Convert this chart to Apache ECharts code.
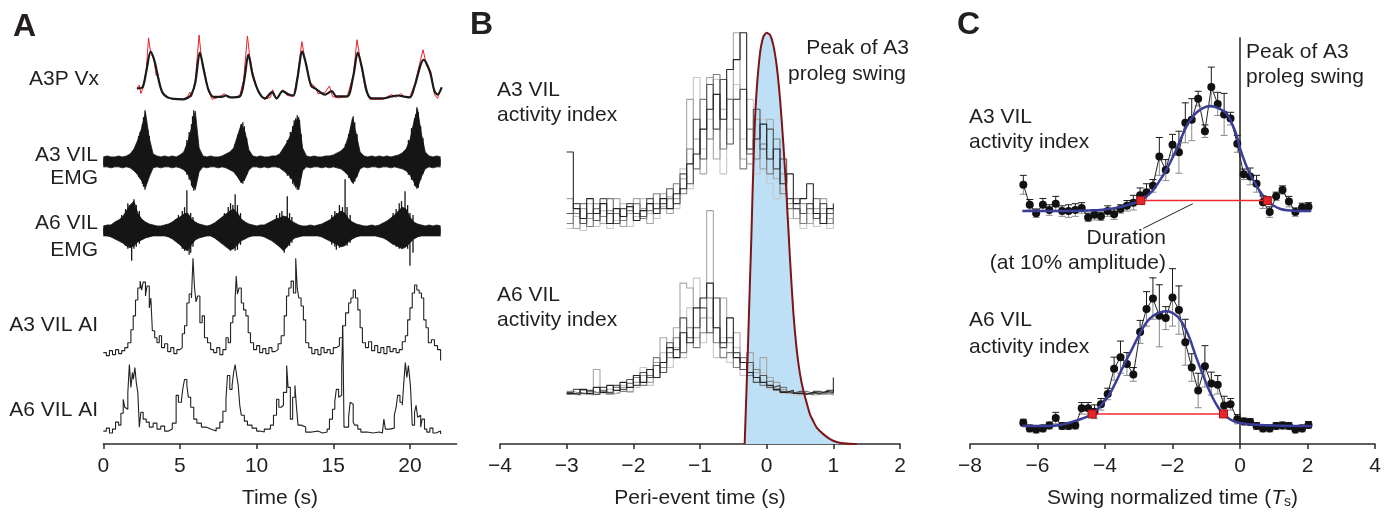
<!DOCTYPE html>
<html><head><meta charset="utf-8">
<script src="https://cdn.jsdelivr.net/npm/echarts@6/dist/echarts.min.js"></script>
<style>html,body{margin:0;padding:0;background:#fff}#c{width:1385px;height:514px}</style>
</head><body><div id="c"></div>
<script>
// ================= DATA =================
// ---- Panel A : time in s ----
const aTicks = [0, 5, 10, 15, 20];
// A3P Vx (normalized velocity), smoothed trace
const vxBlack = [[2.2,0.23],[2.55,0.25],[2.8,0.58],[3.09,1.0],[3.35,0.79],[3.6,0.42],[3.85,0.15],[4.2,0.04],[4.6,0.01],[5.2,0],[5.55,0.04],[5.75,0.1],[6.0,0.35],[6.3,0.98],[6.55,0.62],[6.85,0.21],[7.2,0.05],[7.7,0.05],[8.0,0.08],[8.3,0.04],[8.9,0.06],[9.2,0.42],[9.46,0.94],[9.75,0.5],[10.15,0.15],[10.55,0.02],[11.0,0.15],[11.3,0.02],[11.7,0.17],[12.1,0.1],[12.4,0.08],[12.65,0.42],[12.98,1.0],[13.2,0.77],[13.55,0.29],[13.9,0.21],[14.45,0.1],[14.9,0.17],[15.2,0.06],[15.9,0.06],[16.3,0.48],[16.6,0.98],[16.85,0.69],[17.2,0.15],[17.5,0.02],[18.3,0.02],[18.8,0.06],[19.2,0.08],[19.6,0.06],[20.0,0.04],[20.3,0.27],[20.9,0.83],[21.3,0.58],[21.6,0.17],[21.8,0.1],[22.07,0.25]];
// A3P Vx raw trace
const vxRed = [[2.2,0.23],[2.35,0.3],[2.45,0.12],[2.6,0.25],[2.8,0.6],[2.95,1.29],[3.1,0.95],[3.3,0.85],[3.45,0.5],[3.55,0.55],[3.7,0.3],[3.85,0.12],[4.1,0.04],[4.6,0],[5.2,0],[5.5,0.06],[5.65,0.15],[5.75,0.05],[6.0,0.4],[6.25,1.35],[6.4,0.85],[6.6,0.6],[6.85,0.18],[7.1,0],[7.5,0.04],[7.9,0.12],[8.1,0.04],[8.6,0.04],[8.9,0.08],[9.15,0.4],[9.4,1.33],[9.55,0.9],[9.75,0.55],[10.1,0.15],[10.5,0],[10.9,0.04],[11.05,0.2],[11.3,0],[11.7,0.2],[12.0,0.08],[12.4,0.06],[12.65,0.45],[12.95,1.21],[13.15,0.85],[13.5,0.35],[13.85,0.25],[14.0,0.12],[14.45,0.14],[14.75,0.28],[14.95,0.06],[15.3,0.03],[15.9,0.05],[16.3,0.5],[16.55,1.25],[16.8,0.75],[17.1,0.2],[17.4,0],[18.2,0],[18.8,0.1],[19.1,0.04],[19.4,0.12],[19.7,0.04],[20.0,0.06],[20.3,0.3],[20.85,1.04],[21.1,0.7],[21.35,0.6],[21.6,0.1],[21.8,0.02],[22.07,0.25]];
// EMG envelopes, sampled every 0.25 s from 0 s (amplitude, a.u.)
const emgT0 = 0, emgDt = 0.25;
const a3EmgUp = [0.5,0.6,0.5,0.5,0.6,0.5,0.6,0.8,1.3,2.2, 3.4,5.0,2.4,0.8,0.6,0.5,0.6,0.5,0.6,0.5, 0.7,1.0,2.0,3.4,5.1,1.4,0.6,0.5,0.6,0.5, 0.5,0.6,0.8,1.0,1.4,2.6,3.8,3.0,1.2,0.6, 0.5,0.6,0.5,0.5,0.6,0.6,0.8,1.4,2.0,2.8, 4.0,4.5,1.4,0.6,0.5,0.6,0.5,0.5,0.6,0.6, 0.7,0.9,1.1,1.5,2.6,4.4,2.8,1.0,0.6,0.5, 0.6,0.5,0.6,0.5,0.6,0.5,0.6,0.7,0.9,1.3, 2.2,4.0,5.3,2.8,1.0,0.6,0.5,0.6,0.5];
const a3EmgDown = [0.5,0.5,0.6,0.5,0.5,0.6,0.5,0.6,0.9,1.3, 1.9,2.6,1.5,0.6,0.5,0.6,0.5,0.5,0.6,0.5, 0.6,0.8,1.2,2.0,2.8,1.0,0.5,0.6,0.5,0.5, 0.6,0.5,0.6,0.8,1.0,1.5,2.1,1.7,0.8,0.5, 0.5,0.6,0.5,0.6,0.5,0.5,0.6,0.9,1.2,1.6, 2.2,2.8,0.9,0.5,0.6,0.5,0.5,0.6,0.5,0.6, 0.5,0.6,0.7,1.0,1.4,2.1,1.6,0.7,0.5,0.6, 0.5,0.5,0.6,0.5,0.5,0.6,0.5,0.6,0.7,0.9, 1.3,2.0,2.6,1.5,0.7,0.5,0.6,0.5,0.5];
const a6EmgUp = [0.5,0.6,0.6,0.9,1.1,1.4,2.0,2.6,3.0,1.8, 1.2,0.9,0.7,0.6,0.5,0.5,0.6,0.7,0.9,1.2, 1.4,1.7,1.8,1.2,0.9,0.7,0.6,0.5,0.6,0.8, 1.1,1.4,1.7,2.0,2.2,1.8,1.2,0.9,0.7,0.6, 0.5,0.6,0.6,0.8,1.0,1.2,1.3,1.5,1.4,1.0, 0.8,0.6,0.5,0.5,0.6,0.5,0.6,0.7,0.9,1.1, 1.4,1.7,2.0,1.8,1.2,0.9,0.7,0.6,0.5,0.5, 0.6,0.5,0.6,0.8,1.0,1.3,1.6,2.0,2.4,2.2, 1.4,0.9,0.7,0.6,0.5,0.6,0.5,0.6,0.5];
const a6EmgDown = [0.5,0.5,0.6,0.8,1.0,1.2,1.5,1.7,1.5,1.1, 0.9,0.7,0.6,0.5,0.5,0.5,0.5,0.6,0.8,1.1, 1.4,1.8,2.0,1.4,0.9,0.7,0.6,0.5,0.5,0.7, 1.0,1.3,1.6,1.9,1.8,1.4,1.0,0.8,0.6,0.5, 0.5,0.5,0.6,0.8,1.0,1.3,1.6,2.0,1.6,1.0, 0.7,0.6,0.5,0.5,0.5,0.5,0.5,0.6,0.8,1.0, 1.2,1.4,1.6,1.5,1.1,0.8,0.6,0.5,0.5,0.5, 0.5,0.5,0.6,0.7,0.9,1.2,1.4,1.6,1.8,1.6, 1.2,0.8,0.6,0.5,0.5,0.5,0.5,0.5,0.5];
// individual EMG spikes [t, up, down]
const a3EmgSpikes = [[2.72,5.2,2.8],[2.55,3.8,2.2],[2.3,2.6,1.5],[2.4,3.0,1.7],[2.62,4.5,2.5],[2.8,4.0,2.2],[2.9,3.2,1.6],[3.0,2.6,1.2],
  [5.9,5.2,2.9],[5.75,3.8,2.4],[5.45,2.2,1.3],[5.6,3.0,1.8],[5.82,4.6,2.6],[6.0,4.4,2.5],[6.1,2.6,1.3],
  [9.1,4.0,2.2],[8.9,3.2,1.8],[8.6,1.8,1.0],[8.8,2.8,1.5],[9.0,3.8,2.1],[9.2,3.6,1.9],[9.35,2.4,1.3],
  [12.65,4.7,2.8],[12.45,4.2,2.4],[12.0,2.2,1.4],[12.2,3.0,1.7],[12.35,3.6,2.2],[12.55,4.4,2.6],[12.8,4.2,2.4],[12.9,2.8,1.5],
  [16.3,4.6,2.2],[16.15,3.4,1.8],[15.8,1.8,1.1],[16.0,2.8,1.6],[16.2,3.8,2.0],[16.4,4.0,2.0],[16.55,2.8,1.5],
  [20.45,5.5,2.7],[20.3,4.4,2.4],[19.9,2.2,1.3],[20.1,3.4,1.8],[20.38,4.8,2.5],[20.55,5.0,2.6],[20.7,3.6,1.8],[20.85,2.4,1.2]];
const a6EmgSpikes = [[1.85,2.2,3.0],[2.0,3.2,1.8],[1.7,2.6,1.6],[1.2,1.6,1.2],[1.45,2.2,1.5],[1.6,2.8,1.8],[2.15,2.6,1.6],[2.35,2.0,1.3],
  [5.45,4.1,1.2],[5.6,1.5,2.4],[4.9,1.6,1.3],[5.15,2.0,1.8],[5.3,2.4,2.0],[5.7,1.8,2.2],[5.85,1.4,1.6],
  [8.6,3.7,2.0],[8.45,2.6,1.4],[7.9,1.8,1.4],[8.15,2.4,1.7],[8.3,2.8,2.0],[8.75,2.6,1.9],[8.95,1.8,1.4],
  [12.0,3.5,1.2],[11.8,1.4,2.2],[11.3,1.6,1.3],[11.5,1.8,1.6],[11.65,2.0,1.8],[12.15,1.8,1.5],[12.3,1.4,1.2],
  [15.77,5.2,1.4],[15.6,2.4,1.2],[15.2,1.8,1.9],[14.9,1.6,1.4],[15.1,2.0,1.6],[15.4,2.6,1.7],[15.9,2.4,1.5],[16.1,1.6,1.2],
  [19.68,4.0,1.6],[19.45,3.0,1.4],[20.0,1.8,3.5],[18.9,1.8,1.4],[19.1,2.2,1.6],[19.3,2.8,1.8],[19.85,2.6,1.8],[20.2,1.6,2.2]];
// activity indices
const a3AI = [[0,0.7],[0.2,0.4],[0.4,0.9],[0.6,0.5],[0.8,1.0],[1.0,0.6],[1.2,0.9],[1.4,1.2],[1.6,1.7],[1.8,3.0],[1.95,4.4],[2.1,6.0],[2.25,7.2],[2.4,7.9],[2.5,7.0],[2.6,7.8],[2.75,6.4],[2.85,7.4],[3.0,5.2],[3.1,6.2],[3.2,2.9],[3.35,2.2],[3.5,1.7],[3.65,2.4],[3.8,1.2],[4.0,1.6],[4.2,0.8],[4.4,1.2],[4.6,0.6],[4.8,1.0],[5.0,1.2],[5.15,2.6],[5.3,3.4],[5.45,5.7],[5.6,6.6],[5.75,6.2],[5.85,10.2],[5.95,7.2],[6.05,5.8],[6.15,6.4],[6.3,3.7],[6.45,4.4],[6.6,2.2],[6.8,1.7],[7.0,1.0],[7.2,0.7],[7.4,1.2],[7.6,0.5],[7.8,1.0],[8.0,2.2],[8.15,1.7],[8.3,3.7],[8.45,4.4],[8.6,6.2],[8.67,8.4],[8.75,6.6],[8.85,7.2],[9.0,5.7],[9.15,5.0],[9.3,4.4],[9.45,2.7],[9.6,1.7],[9.8,1.0],[10.0,1.4],[10.2,0.7],[10.4,1.1],[10.6,0.6],[10.8,1.2],[11.0,0.8],[11.2,1.0],[11.4,1.6],[11.6,2.4],[11.8,4.4],[11.95,6.4],[12.1,7.2],[12.25,7.9],[12.4,6.7],[12.55,10.2],[12.65,7.2],[12.75,6.2],[12.9,5.4],[13.05,4.0],[13.2,1.7],[13.4,1.2],[13.6,0.6],[13.8,1.0],[14.0,0.5],[14.2,1.2],[14.4,0.7],[14.6,1.0],[14.8,0.6],[15.0,1.2],[15.2,1.4],[15.4,2.2],[15.6,3.4],[15.8,4.7],[16.0,5.7],[16.15,6.2],[16.3,7.0],[16.45,6.2],[16.6,5.0],[16.75,3.2],[16.9,1.7],[17.1,1.2],[17.3,1.8],[17.5,0.9],[17.7,1.4],[17.9,0.7],[18.1,1.2],[18.3,0.6],[18.5,1.3],[18.7,0.8],[18.9,1.1],[19.1,0.7],[19.3,1.0],[19.5,1.8],[19.7,2.4],[19.85,4.0],[20.0,5.2],[20.15,6.7],[20.3,7.5],[20.45,7.0],[20.6,6.7],[20.75,6.2],[20.9,4.0],[21.05,3.2],[21.2,1.7],[21.4,2.0],[21.6,1.4],[21.8,1.0],[22.0,-0.1]];
const a6AI = [[0,0.6],[0.2,0.9],[0.4,0.4],[0.6,0.8],[0.8,1.5],[1.0,1.2],[1.15,2.4],[1.3,3.8],[1.4,3.0],[1.5,2.8],[1.6,4.5],[1.7,7.3],[1.8,5.0],[1.9,6.5],[1.96,5.8],[2.06,7.0],[2.15,5.5],[2.25,4.5],[2.35,1.0],[2.45,2.5],[2.6,1.8],[2.8,1.5],[3.0,1.0],[3.25,1.4],[3.5,0.8],[3.75,1.1],[4.0,0.6],[4.25,0.8],[4.5,1.4],[4.75,4.2],[4.9,3.5],[5.1,3.8],[5.2,5.0],[5.3,5.8],[5.45,5.2],[5.55,4.0],[5.7,3.0],[5.9,1.8],[6.1,1.4],[6.4,1.0],[6.7,0.8],[7.0,0.6],[7.36,0.9],[7.6,1.5],[7.8,2.6],[8.0,3.8],[8.1,6.2],[8.25,4.8],[8.4,5.2],[8.5,6.5],[8.6,7.3],[8.7,6.2],[8.8,5.2],[8.9,3.2],[9.0,2.2],[9.2,1.6],[9.4,1.2],[9.7,0.9],[10.0,0.6],[10.2,0.5],[10.5,0.8],[10.9,1.2],[11.1,2.2],[11.3,3.8],[11.45,3.0],[11.6,3.2],[11.75,4.5],[11.96,7.2],[12.05,5.0],[12.2,1.8],[12.35,4.0],[12.5,5.2],[12.6,3.0],[12.7,1.2],[12.9,1.0],[13.2,0.5],[13.6,0.6],[14.0,0.4],[14.3,0.5],[14.6,0.8],[14.75,1.8],[14.95,2.8],[15.1,3.6],[15.2,4.8],[15.35,4.0],[15.45,4.2],[15.55,7.0],[15.62,11.2],[15.7,1.0],[15.85,1.0],[16.0,2.0],[16.1,3.5],[16.2,3.3],[16.3,1.5],[16.4,1.2],[16.6,0.8],[16.8,0.5],[17.2,0.4],[17.6,0.5],[18.0,0.4],[18.2,0.6],[18.3,1.8],[18.4,0.8],[18.7,0.9],[18.98,2.2],[19.1,3.0],[19.2,4.2],[19.35,3.5],[19.5,3.2],[19.6,5.5],[19.7,7.5],[19.8,6.0],[19.9,7.2],[20.03,5.2],[20.1,3.0],[20.15,1.2],[20.3,2.5],[20.4,3.2],[20.5,2.0],[20.6,2.2],[20.7,1.0],[20.8,1.8],[20.95,0.8],[21.1,0.5],[21.3,0.9],[21.5,0.4],[21.7,0.6],[22.0,0.3]];

// ---- Panel B : peri-event time in s ----
const bBins = [-3.0,-2.9,-2.8,-2.7,-2.6,-2.5,-2.4,-2.3,-2.2,-2.1,-2.0,-1.9,-1.8,-1.7,-1.6,-1.5,-1.4,-1.3,-1.2,-1.1,-1.0,-0.9,-0.8,-0.7,-0.6,-0.5,-0.4,-0.3,-0.2,-0.1,0.0,0.1,0.2,0.3,0.4,0.5,0.6,0.7,0.8,0.9,1.0];
const bA3_1 = [7.7,2.0,1.0,3.0,1.5,2.5,0.5,2.0,1.2,2.2,0.8,1.8,2.5,1.5,3.0,2.0,3.5,4.0,6.5,7.5,10.0,12.0,13.5,11.0,16.0,17.0,19.7,8.0,9.0,10.5,7.0,8.0,4.5,5.5,2.5,3.0,4.5,1.5,0.5,2.0,2.5];
const bA3_2 = [1.5,2.5,0.5,1.5,0.8,3.0,1.5,0.5,2.0,2.5,1.5,1.2,3.0,2.0,2.5,4.0,2.5,5.5,4.5,11.0,7.0,14.5,10.0,15.0,8.5,13.0,14.0,7.5,12.0,8.0,10.0,6.0,7.0,3.0,2.0,1.5,2.5,1.0,2.5,1.5,2.0];
const bA3_3 = [0.5,1.5,2.5,0.2,2.0,1.2,3.0,1.5,0.8,1.8,2.5,1.0,1.8,3.5,2.0,3.0,4.5,3.5,8.0,6.0,13.0,9.0,15.5,8.0,13.0,11.0,6.0,10.0,7.0,8.5,5.5,9.0,3.5,2.0,3.0,0.5,2.0,3.0,1.5,0.5,1.5];
const bA3_4 = [3.0,0.0,2.0,1.0,2.5,0.5,1.8,3.0,0.2,1.5,3.0,2.0,0.5,2.5,3.5,1.5,3.0,5.0,13.0,9.0,5.5,15.2,7.0,12.0,13.0,19.7,7.0,6.5,11.0,6.0,11.0,5.0,5.5,2.5,1.0,2.5,0.5,2.0,3.0,1.0,0.5];
const bA3_5 = [0.0,1.2,-0.2,2.5,0.2,1.8,0.0,0.8,2.5,0.2,1.2,3.0,1.5,1.0,2.2,3.2,2.0,6.0,4.0,15.2,8.0,11.0,15.0,5.5,10.0,14.5,9.0,13.0,5.5,11.0,4.5,3.0,4.0,1.0,2.0,0.0,1.5,0.2,2.0,0.0,1.0];
const bA6_1 = [0.4,0.3,0.8,0.4,1.0,0.5,1.2,0.7,1.5,1.0,2.2,1.5,2.8,2.0,3.5,5.0,4.0,6.5,5.5,9.0,10.0,11.5,7.0,5.5,8.0,4.0,3.5,2.5,2.0,1.5,1.2,0.8,0.5,0.7,0.4,0.3,0.5,0.4,0.6,0.5,2.0];
const bA6_2 = [0.5,0.8,0.4,0.7,0.3,1.0,0.5,1.2,0.8,1.8,1.2,2.5,2.0,3.2,2.5,5.5,4.8,8.0,6.0,7.0,9.0,6.5,10.0,5.0,6.0,4.5,2.8,3.5,1.5,2.2,1.0,1.2,0.6,0.4,0.6,0.4,0.3,0.6,0.4,0.7,0.5];
const bA6_3 = [0.3,0.5,0.3,0.6,0.4,0.7,0.4,1.0,0.6,1.4,2.0,1.2,2.2,4.0,3.0,4.5,6.0,4.5,7.0,5.0,6.5,10.0,5.5,4.0,4.5,3.0,4.0,2.2,2.8,1.2,1.6,0.7,1.0,0.5,0.3,0.6,0.4,0.3,0.5,0.3,0.4];
const bA6_4 = [0.6,0.4,0.7,0.3,2.8,0.6,0.3,0.5,1.0,0.6,1.5,2.2,1.5,3.5,6.0,4.0,7.0,11.5,11.0,6.0,8.0,18.8,7.0,10.0,5.5,6.5,3.5,4.5,2.5,4.0,2.0,1.5,0.8,0.4,0.5,0.3,0.4,0.6,0.3,0.4,0.5];
const bA6_5 = [0.3,0.2,0.4,0.2,0.5,0.3,0.8,0.4,1.2,0.5,1.0,3.0,1.2,2.0,4.5,3.0,5.0,4.0,9.0,12.0,5.5,8.0,4.0,6.0,3.5,5.0,2.2,3.2,1.5,2.5,0.8,1.0,0.4,0.6,0.2,0.4,0.2,0.3,0.4,0.2,0.3];
// A3 proleg swing profile (normalized)
const swing = [[-0.33,0],[-0.28,0.24],[-0.25,0.4],[-0.23,0.5],[-0.21,0.62],[-0.18,0.77],[-0.15,0.86],[-0.1,0.95],[-0.05,0.99],[0,1],[0.05,0.995],[0.1,0.97],[0.15,0.92],[0.2,0.84],[0.25,0.73],[0.3,0.6],[0.35,0.45],[0.4,0.32],[0.45,0.23],[0.5,0.17],[0.55,0.13],[0.6,0.1],[0.65,0.072],[0.7,0.055],[0.75,0.04],[0.85,0.024],[0.95,0.012],[1.05,0.005],[1.15,0.002],[1.3,0],[1.35,0]];

// ---- Panel C : swing normalized time (Ts) ----
const tNorm = [-6.42,-6.23,-6.04,-5.84,-5.65,-5.46,-5.27,-5.08,-4.88,-4.69,-4.50,-4.31,-4.12,-3.92,-3.73,-3.54,-3.35,-3.16,-2.96,-2.77,-2.58,-2.39,-2.20,-2.00,-1.81,-1.62,-1.43,-1.24,-1.04,-0.85,-0.66,-0.47,-0.28,-0.08,0.11,0.30,0.49,0.68,0.88,1.07,1.26,1.45,1.64,1.84,2.03];
const cA3 = [0.25,0.06,-0.02,0.06,0.01,0.07,0.0,0.0,0.01,0.03,-0.06,-0.035,-0.05,0.0,-0.03,0.02,0.05,0.08,0.15,0.18,0.24,0.52,0.39,0.63,0.56,0.84,0.87,1.07,0.76,1.18,1.02,0.92,0.88,0.64,0.35,0.33,0.26,0.085,-0.01,0.14,0.2,0.09,-0.01,0.035,0.04];
const cA3Err = [0.09,0.05,0.04,0.06,0.05,0.07,0.05,0.06,0.06,0.05,0.04,0.05,0.04,0.05,0.05,0.04,0.05,0.07,0.07,0.08,0.06,0.18,0.1,0.1,0.2,0.19,0.2,0.07,0.06,0.19,0.11,0.2,0.06,0.08,0.05,0.08,0.08,0.06,0.05,0.04,0.04,0.05,0.04,0.04,0.04];
const cA6 = [0.03,-0.02,-0.03,-0.02,0.005,0.07,0.0,0.0,0.005,0.155,0.155,0.125,0.19,0.28,0.5,0.6,0.54,0.45,0.82,1.02,1.11,0.96,0.94,1.12,1.01,0.73,0.51,0.31,0.52,0.37,0.36,0.18,0.19,0.06,0.04,0.035,0.0,-0.02,-0.02,0.0,0.005,0.0,-0.03,-0.02,0.01];
const cA6Err = [0.03,0.03,0.03,0.03,0.03,0.05,0.03,0.03,0.03,0.05,0.05,0.06,0.05,0.05,0.1,0.14,0.1,0.06,0.1,0.15,0.18,0.27,0.1,0.25,0.21,0.2,0.12,0.15,0.18,0.1,0.08,0.08,0.05,0.04,0.03,0.03,0.03,0.03,0.03,0.03,0.03,0.03,0.03,0.03,0.03];
const cA3Fit = [[-6.45,0],[-5.5,0],[-4.5,0.005],[-4.0,0.015],[-3.6,0.035],[-3.3,0.06],[-2.94,0.1],[-2.6,0.19],[-2.4,0.28],[-2.17,0.4],[-1.95,0.54],[-1.75,0.69],[-1.58,0.81],[-1.42,0.89],[-1.28,0.94],[-1.1,0.98],[-0.89,1.0],[-0.65,0.98],[-0.4,0.93],[-0.25,0.84],[-0.1,0.72],[0.0,0.6],[0.15,0.46],[0.3,0.35],[0.49,0.24],[0.65,0.16],[0.81,0.1],[1.0,0.05],[1.2,0.02],[1.4,0.008],[1.7,0],[2.1,0]];
const cA6Fit = [[-6.45,0],[-5.8,0],[-5.33,0.01],[-4.84,0.05],[-4.38,0.106],[-3.95,0.24],[-3.7,0.37],[-3.46,0.52],[-3.2,0.67],[-2.96,0.81],[-2.75,0.91],[-2.57,0.96],[-2.37,0.99],[-2.17,1.0],[-1.97,0.98],[-1.78,0.93],[-1.62,0.85],[-1.48,0.755],[-1.3,0.6],[-1.09,0.44],[-0.94,0.33],[-0.79,0.236],[-0.64,0.16],[-0.49,0.106],[-0.3,0.06],[-0.1,0.035],[0.2,0.018],[0.59,0.01],[1.2,0.003],[2.12,0]];
const cA3Dur = [[-2.94,0.1],[0.81,0.1]];
const cA6Dur = [[-4.38,0.106],[-0.49,0.106]];
const peakTime = 0;

// ================= LAYOUT =================
const AXY = 447;           // pixel row of the x axes
const FONT = 'Liberation Sans';
const FS = 21;
const TXT = '#231f20';
function yAx(grid, base, k) { return {type:'value', gridIndex:grid, show:false, min:(base-AXY)/k, max:base/k}; }
const fmt = v => (v < 0 ? '\u2212' + Math.abs(v) : String(v));
function xAx(grid, min, max, interval, name, custom) {
  const o = {type:'value', gridIndex:grid, min, max, interval, position:'bottom',
    axisLine:{show:true, onZero:false, lineStyle:{color:'#2b2b2b', width:1.5}},
    axisTick:{show:true, inside:false, length:5, lineStyle:{color:'#2b2b2b', width:1.5}},
    axisLabel:{fontSize:FS, fontFamily:FONT, color:TXT, margin:12, formatter:fmt},
    splitLine:{show:false}, name, nameLocation:'middle', nameGap:44,
    nameTextStyle:{fontSize:FS, fontFamily:FONT, color:TXT}};
  if (custom) { o.axisTick.customValues = custom; o.axisLabel.customValues = custom; }
  return o;
}
const grids = [
  {left:103.3, top:0, width:353.4, height:AXY},
  {left:500, top:0, width:400, height:AXY},
  {left:970, top:0, width:405, height:AXY}
];
const xAxes = [
  xAx(0, 0, 23.05, 5, 'Time (s)', aTicks),
  xAx(1, -4, 2, 1, 'Peri-event time (s)'),
  xAx(2, -8, 4, 2, 'Swing normalized time ({i|T}{s|s})')
];
xAxes[2].nameTextStyle.rich = {
  i:{fontStyle:'italic', fontSize:FS, fontFamily:FONT, color:TXT},
  s:{fontSize:14, fontFamily:FONT, color:TXT, verticalAlign:'bottom', lineHeight:8}
};
const yAxes = [
  yAx(0, 100, 48),    // 0 Vx
  yAx(0, 163, 10),    // 1 A3 EMG
  yAx(0, 232.5, 10),  // 2 A6 EMG
  yAx(0, 362, 10),    // 3 A3 AI
  yAx(0, 440, 10),    // 4 A6 AI
  yAx(1, 447, 414),   // 5 swing
  yAx(1, 230, 10),    // 6 B A3
  yAx(1, 400, 10),    // 7 B A6
  {type:'value', gridIndex:2, show:false, min:0, max:1}, // 8 C frame
  yAx(2, 212.5, 105.8), // 9 C A3
  yAx(2, 429, 115.7)    // 10 C A6
];

// ================= SERIES =================
const series = [];
const line = (x, y, data, extra) => Object.assign({type:'line', xAxisIndex:x, yAxisIndex:y, data, symbol:'none', silent:true, animation:false}, extra);

// Panel A
series.push(line(0,0,vxRed,{lineStyle:{color:'#e8232b', width:1}, z:2}));
series.push(line(0,0,vxBlack,{smooth:0.3, lineStyle:{color:'#1a1a1a', width:2.2}, z:3}));
function emg(y, up, down, spikes) {
  const t = i => emgT0 + i*emgDt;
  series.push(line(0,y,up.map((v,i)=>[t(i),v]),{lineStyle:{color:'#151515',width:0.8}, areaStyle:{color:'#151515',opacity:1, origin:-0.3}}));
  series.push(line(0,y,down.map((v,i)=>[t(i),-v]),{lineStyle:{color:'#151515',width:0.8}, areaStyle:{color:'#151515',opacity:1, origin:0.3}}));
  series.push({type:'custom', xAxisIndex:0, yAxisIndex:y, data:spikes, silent:true, animation:false,
    encode:{x:0, y:[1,2]},
    renderItem:(p, api) => {
      const a = api.coord([api.value(0), api.value(1)]);
      const b = api.coord([api.value(0), -api.value(2)]);
      return {type:'line', shape:{x1:a[0],y1:a[1],x2:b[0],y2:b[1]}, style:{stroke:'#151515', lineWidth:1.3}};
    }});
}
emg(1, a3EmgUp, a3EmgDown, a3EmgSpikes);
emg(2, a6EmgUp, a6EmgDown, a6EmgSpikes);
series.push(line(0,3,a3AI,{step:'end', lineStyle:{color:'#222', width:1.1}}));
series.push(line(0,4,a6AI,{step:'end', lineStyle:{color:'#222', width:1.1}}));

// Panel B
series.push(line(1,5,swing,{smooth:0.2, lineStyle:{width:0}, areaStyle:{color:'#bde0f6', opacity:1}, z:1}));
const shades = ['#c8c8c8','#a6a6a6','#7f7f7f','#555555','#262626'];
[[bA3_5,bA3_4,bA3_3,bA3_2,bA3_1],[bA6_5,bA6_4,bA6_3,bA6_2,bA6_1]].forEach((grp, gi) => {
  grp.forEach((arr, k) => series.push(line(1, 6+gi, bBins.map((t,i)=>[t, arr[i]]), {step:'end', lineStyle:{color:shades[k], width:1.1}, z:3})));
});
series.push(line(1,5,swing,{smooth:0.2, lineStyle:{color:'#7d1418', width:2}, z:6}));

// Panel C
series.push(line(2,8,[[peakTime,0],[peakTime,0.916]],{lineStyle:{color:'#222', width:1.5}, z:2}));
function errSeries(y, vals, errs) {
  return {type:'custom', xAxisIndex:2, yAxisIndex:y, silent:true, animation:false, z:3,
    data: tNorm.map((t,i)=>[t, vals[i], errs[i]]), encode:{x:0, y:1},
    renderItem:(p, api) => {
      const t = api.value(0), v = api.value(1), e = api.value(2);
      const m = api.coord([t, v]), a = api.coord([t, v+e]), b = api.coord([t, v-e]);
      const hw = 3.5;
      return {type:'group', children:[
        {type:'line', shape:{x1:m[0],y1:m[1],x2:a[0],y2:a[1]}, style:{stroke:'#1a1a1a',lineWidth:1}},
        {type:'line', shape:{x1:a[0]-hw,y1:a[1],x2:a[0]+hw,y2:a[1]}, style:{stroke:'#1a1a1a',lineWidth:1}},
        {type:'line', shape:{x1:m[0],y1:m[1],x2:b[0],y2:b[1]}, style:{stroke:'#8a8a8a',lineWidth:1}},
        {type:'line', shape:{x1:b[0]-hw,y1:b[1],x2:b[0]+hw,y2:b[1]}, style:{stroke:'#8a8a8a',lineWidth:1}}
      ]};
    }};
}
[[9,cA3,cA3Err,cA3Fit,cA3Dur],[10,cA6,cA6Err,cA6Fit,cA6Dur]].forEach(([y, vals, errs, fit, dur]) => {
  series.push(errSeries(y, vals, errs));
  series.push(line(2,y,tNorm.map((t,i)=>[t, vals[i]]),{symbol:'circle', symbolSize:8, itemStyle:{color:'#111'}, lineStyle:{color:'#222', width:1}, z:4}));
  series.push(line(2,y,fit,{smooth:0.35, lineStyle:{color:'#3a3e98', width:2.5}, z:5}));
  series.push(line(2,y,dur,{symbol:'rect', symbolSize:8, itemStyle:{color:'#e5262a', borderColor:'#9a1214', borderWidth:1}, lineStyle:{color:'#ec2a2e', width:1.5}, z:7}));
});
// leader line from "Duration" label to the duration bar
series.push(line(2,9,[[-2.87,-0.165],[-1.40,0.07]],{lineStyle:{color:'#222', width:1}, z:6}));

// ================= TEXT =================
const texts = [];
function T(text, x, y, align, size, weight) {
  texts.push({type:'text', x, y, silent:true, style:{text, fill:TXT, align:align||'left', verticalAlign:'middle',
    font:(weight||'normal') + ' ' + (size||FS) + 'px "' + FONT + '"'}});
}
T('A', 13, 27, 'left', 32, 'bold');
T('A3P Vx', 99, 79, 'right');
T('A3 VIL', 98, 155, 'right'); T('EMG', 98, 178, 'right');
T('A6 VIL', 98, 223, 'right'); T('EMG', 98, 250, 'right');
T('A3 VIL AI', 98, 325, 'right');
T('A6 VIL AI', 98, 410, 'right');
T('B', 470, 25, 'left', 32, 'bold');
T('A3 VIL', 497, 90); T('activity index', 497, 115);
T('A6 VIL', 497, 295); T('activity index', 497, 320);
T('Peak of A3', 909, 48, 'right'); T('proleg swing', 906, 74, 'right');
T('C', 957, 25, 'left', 32, 'bold');
T('Peak of A3', 1246, 52); T('proleg swing', 1246, 77);
T('A3 VIL', 969, 117); T('activity index', 969, 142);
T('Duration', 1166, 238, 'right'); T('(at 10% amplitude)', 1166, 263, 'right');
T('A6 VIL', 969, 320); T('activity index', 969, 347);

const chart = echarts.init(document.getElementById('c'), null, {renderer:'canvas'});
chart.setOption({
  animation:false, backgroundColor:'#fff',
  textStyle:{fontFamily:FONT},
  grid:grids, xAxis:xAxes, yAxis:yAxes, series, graphic:texts
});
</script></body></html>
